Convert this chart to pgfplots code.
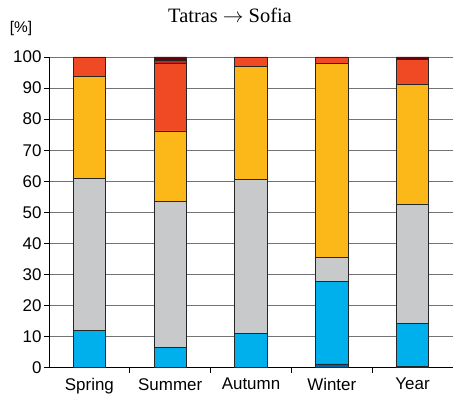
\documentclass[border=0pt]{standalone}
\usepackage{fontspec}
\setmainfont{Liberation Sans}
\newfontfamily\timesfont{Liberation Serif}
\usepackage{pgfplots}
\pgfplotsset{compat=1.18}
\definecolor{cdb}{RGB}{0,100,170}
\definecolor{cbl}{RGB}{0,176,236}
\definecolor{cgr}{RGB}{200,201,203}
\definecolor{cor}{RGB}{252,183,25}
\definecolor{cre}{RGB}{240,74,36}
\definecolor{cdr}{RGB}{190,40,30}
\definecolor{cma}{RGB}{100,0,10}
\begin{document}
\begin{tikzpicture}
\begin{axis}[
  at={(0,0)}, anchor=south west,
  scale only axis,
  width=404bp, height=310.7bp,
  xmin=-0.5, xmax=4.5, ymin=0, ymax=100,
  ybar stacked, bar width=0.4,
  axis x line*=bottom, axis y line*=left,
  axis line style={black, line width=0.8pt, -},
  xtick={0,1,2,3,4},
  xticklabels={Spring,Summer,Autumn,Winter,Year},
  minor xtick={0.5,1.5,2.5,3.5},
  major x tick style={draw=none},
  minor tick length=5bp,
  tick align=outside,
  ytick={0,10,...,100},
  major tick length=5bp,
  tick style={black, line width=0.8pt},
  ymajorgrids,
  grid style={black!55, line width=1pt},
  /pgf/number format/assume math mode=true,
  tick label style={font=\fontsize{17}{20}\selectfont},
  yticklabel style={xshift=1bp},
  xticklabel style={yshift=-2bp},
  clip=false,
]
\addplot[fill=cdb, draw=black!85, line width=0.7pt] coordinates {(0,0) (1,0) (2,0) (3,1.2) (4,0.45)};
\addplot[fill=cbl, draw=black!85, line width=0.7pt] coordinates {(0,12) (1,6.6) (2,11.1) (3,26.7) (4,13.85)};
\addplot[fill=cgr, draw=black!85, line width=0.7pt] coordinates {(0,49) (1,46.8) (2,49.5) (3,7.6) (4,38.4)};
\addplot[fill=cor, draw=black!85, line width=0.7pt] coordinates {(0,32.7) (1,22.8) (2,36.4) (3,62.5) (4,38.5)};
\addplot[fill=cre, draw=black!85, line width=0.7pt] coordinates {(0,6.3) (1,21.8) (2,3.0) (3,2.0) (4,8.0)};
\addplot[fill=cdr, draw=black!85, line width=0.7pt] coordinates {(0,0) (1,0.9) (2,0) (3,0) (4,0)};
\addplot[fill=cma, draw=black!85, line width=0.7pt] coordinates {(0,0) (1,1.1) (2,0) (3,0) (4,0.8)};
\end{axis}
\node[font=\timesfont\fontsize{20.5}{24}\selectfont] at (181bp,352bp) {Tatras $\rightarrow$ Sofia};
\node[font=\fontsize{15.5}{18}\selectfont] at (-28bp,339bp) {[\%]};
\pgfresetboundingbox
\path (-49bp,-33.3bp) rectangle (404bp,367.7bp);
\end{tikzpicture}
\end{document}
